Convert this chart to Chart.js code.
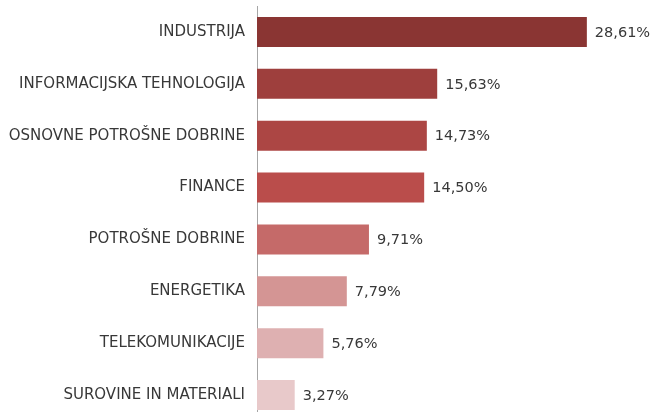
<!DOCTYPE html>
<html>
<head>
<meta charset="utf-8">
<script src="https://cdn.jsdelivr.net/npm/chart.js@4"></script>
<style>
    html, body { margin: 0; padding: 0; background: #fff; overflow: hidden; }
    #wrap { width: 653px; height: 412px; overflow: hidden; }
    #sectorChart { display: block; margin-top: -15px; }
</style>
</head>
<body>
<div id="wrap"><canvas id="sectorChart" width="653" height="457"></canvas></div>
<script>
    // Sector weights (%)
    const sectors = [
        "INDUSTRIJA",
        "INFORMACIJSKA TEHNOLOGIJA",
        "OSNOVNE POTROŠNE DOBRINE",
        "FINANCE",
        "POTROŠNE DOBRINE",
        "ENERGETIKA",
        "TELEKOMUNIKACIJE",
        "SUROVINE IN MATERIALI"
    ];
    const weights = [28.61, 15.63, 14.73, 14.50, 9.71, 7.79, 5.76, 3.27];
    const barColors = ["#8a3533", "#9e3f3d", "#ac4644", "#ba4d4b", "#c56a69", "#d49594", "#deb0b1", "#e8c9ca"];

    const fontFamily = "'DejaVu Sans', sans-serif";

    // Writes the value next to the end of each bar
    const valueLabels = {
        id: "valueLabels",
        afterDatasetsDraw(chart) {
            const ctx = chart.ctx;
            const meta = chart.getDatasetMeta(0);
            ctx.save();
            ctx.font = "14.5px " + fontFamily;
            ctx.fillStyle = "#383838";
            ctx.textAlign = "left";
            ctx.textBaseline = "middle";
            meta.data.forEach((bar, i) => {
                const txt = weights[i].toFixed(2).replace(".", ",") + "%";
                ctx.fillText(txt, bar.x + 8, bar.y + 1);
            });
            ctx.restore();
        }
    };

    new Chart(document.getElementById("sectorChart").getContext("2d"), {
        type: "bar",
        data: {
            labels: sectors,
            datasets: [{
                data: weights,
                backgroundColor: barColors,
                borderWidth: 0,
                categoryPercentage: 1,
                barPercentage: 0.58
            }]
        },
        options: {
            indexAxis: "y",
            responsive: false,
            animation: false,
            layout: { padding: { top: 5, right: 4, bottom: 0, left: 0 } },
            scales: {
                x: {
                    display: false,
                    min: 0,
                    max: 34
                },
                y: {
                    grid: { display: false, drawTicks: false },
                    border: { display: true, color: "#a6a6a6", width: 1 },
                    ticks: {
                        color: "#383838",
                        padding: 12,
                        font: { family: fontFamily, size: 15 }
                    },
                    afterFit(scale) { scale.width = 257; }
                }
            },
            plugins: {
                legend: { display: false },
                tooltip: { enabled: false }
            }
        },
        plugins: [valueLabels]
    });
</script>
</body>
</html>
